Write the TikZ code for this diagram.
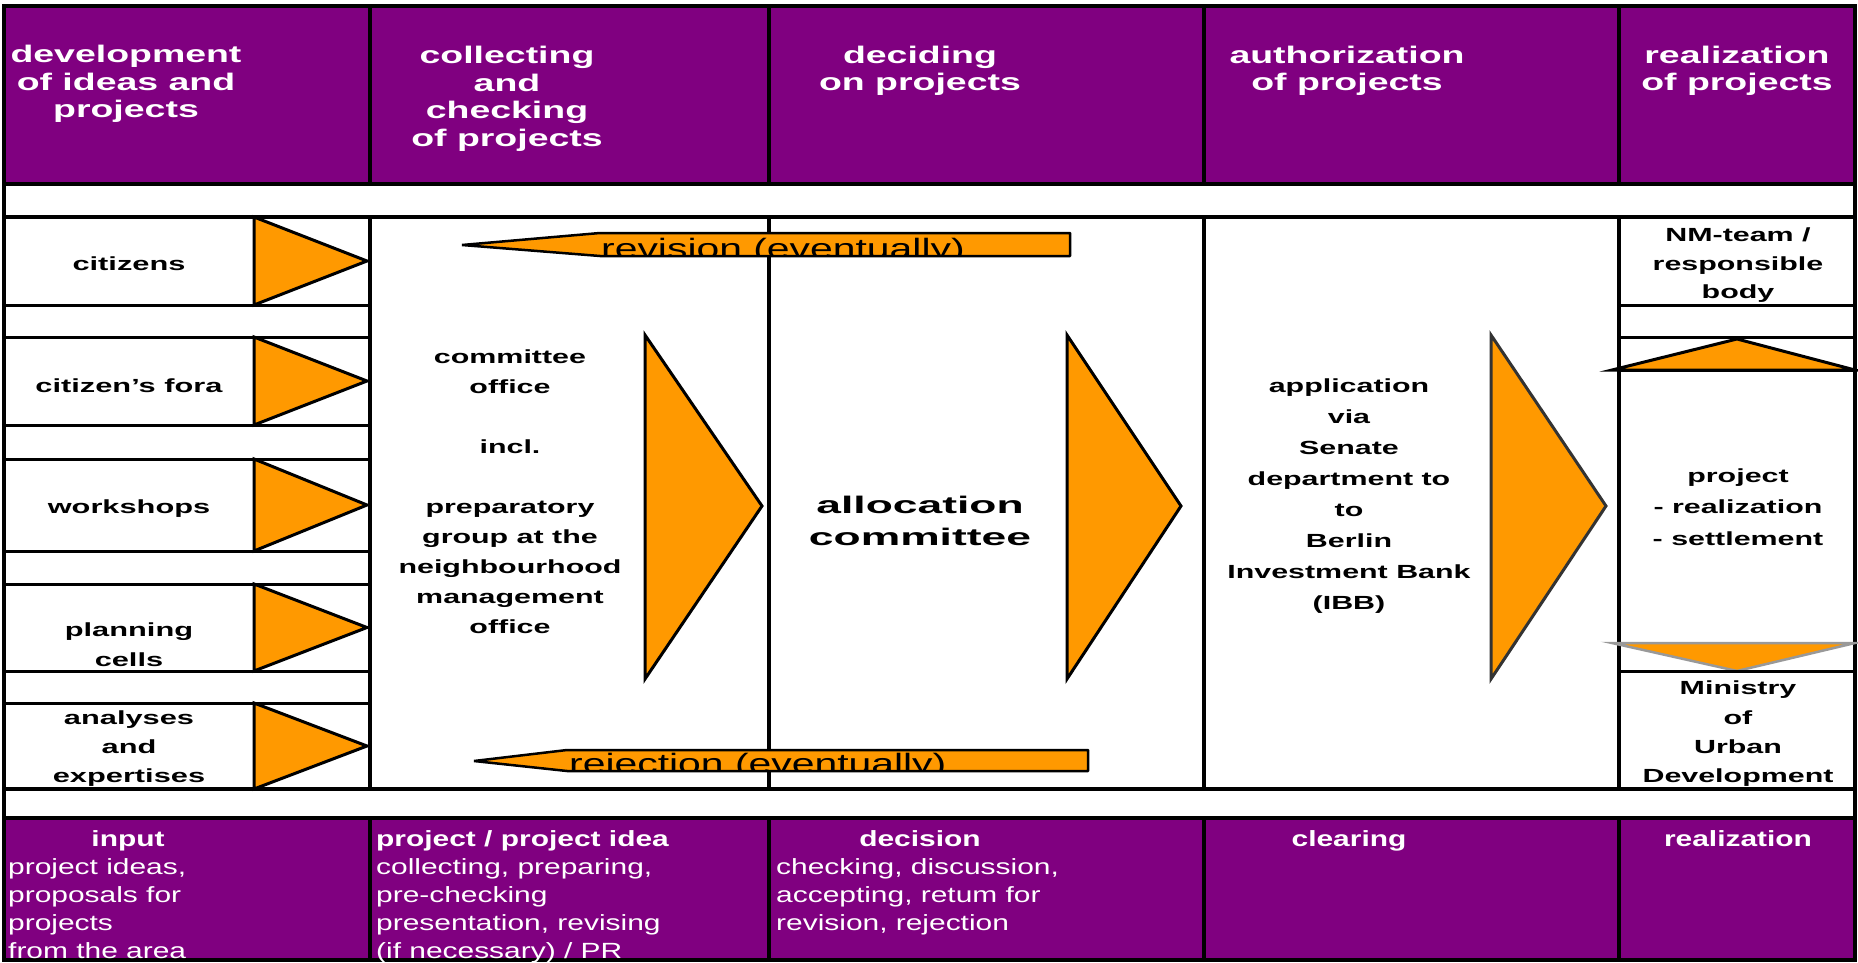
\documentclass[tikz,border=0pt]{standalone}
\usepackage{fontspec}
\setmainfont{Liberation Sans}
\usepackage{graphicx}
\definecolor{nmpurple}{HTML}{800080}
\definecolor{nmorange}{HTML}{FF9900}
\newcommand{\tx}[3]{\scalebox{#1}[1]{\begin{tabular}{@{}#2@{}}#3\end{tabular}}}
\begin{document}
\begin{tikzpicture}[x=1pt,y=-1pt,
  hdr/.style={inner sep=0pt, text=white, font=\bfseries\fontsize{24}{27.5}\selectfont},
  body/.style={inner sep=0pt, text=black, font=\bfseries\fontsize{19}{#1}\selectfont},
  body/.default=30,
  ftitle/.style={inner sep=0pt, text=white, font=\bfseries\fontsize{22}{28}\selectfont},
  fline/.style={inner sep=0pt, text=white, font=\fontsize{22}{28}\selectfont},
  gridline/.style={line width=3.5pt, black},
  boxline/.style={line width=3pt, black},
  tri/.style={fill=nmorange, draw=black, line width=3pt, line join=miter},
  flow/.style={fill=nmorange, draw=black, line width=2.5pt, line join=bevel},
  flowtext/.style={inner sep=0pt, text=black, font=\fontsize{28}{30}\selectfont, anchor=base west}
]
\useasboundingbox (0,0) rectangle (1858,963);
% purple bands
\fill[nmpurple] (4,6) rectangle (1855,184);
\fill[nmpurple] (4,818) rectangle (1855,960);
% grid
\draw[gridline] (4,6) rectangle (1855,960);
\foreach \y in {184,217,789,818} \draw[gridline] (4,\y) -- (1855,\y);
\foreach \x in {370,769,1204,1619} {
  \draw[gridline] (\x,6) -- (\x,184);
  \draw[gridline] (\x,217) -- (\x,789);
  \draw[gridline] (\x,818) -- (\x,960);
}
\foreach \y in {305,337,425,459,551,584,671,703} \draw[boxline] (4,\y) -- (370,\y);
\foreach \y in {305,337,370,671} \draw[boxline] (1619,\y) -- (1855,\y);
% small input triangles
\foreach \t/\b in {217/305, 337/425, 459/551, 584/671, 703/789} {
  \filldraw[tri] (254,\t) -- (367,{(\t+\b)/2}) -- (254,\b) -- cycle;
}
% big triangles
\filldraw[tri] (645,335) -- (762,506) -- (645,679) -- cycle;
\filldraw[tri] (1067,335) -- (1181,506) -- (1067,679) -- cycle;
\filldraw[tri, draw=black!80] (1491,335) -- (1606,506) -- (1491,679) -- cycle;
% realization up / down triangles
\filldraw[tri] (1612,370) -- (1737,339) -- (1855,370) -- cycle;
\filldraw[fill=nmorange, draw=black!40, line width=2.5pt, line join=miter] (1612,643) -- (1855,643) -- (1737,671) -- cycle;
\draw[boxline] (1619,671) -- (1855,671);
% revision arrow
\fill[nmorange] (462,245) -- (600,233) -- (1070,233) -- (1070,256) -- (600,256) -- cycle;
\begin{scope}
  \clip (462,245) -- (600,233) -- (1070,233) -- (1070,256) -- (600,256) -- cycle;
  \node[flowtext] (revtext) at (601,258) {\scalebox{1.46}[1]{revision (eventually)}};
\end{scope}
\draw[flow, fill=none] (462,245) -- (600,233) -- (1070,233) -- (1070,256) -- (600,256) -- cycle;
% rejection arrow
\fill[nmorange] (474,761) -- (567,750) -- (1088,750) -- (1088,771) -- (567,771) -- cycle;
\begin{scope}
  \clip (474,761) -- (567,750) -- (1088,750) -- (1088,771) -- (567,771) -- cycle;
  \node[flowtext] (rejtext) at (569,773) {\scalebox{1.46}[1]{rejection (eventually)}};
\end{scope}
\draw[flow, fill=none] (474,761) -- (567,750) -- (1088,750) -- (1088,771) -- (567,771) -- cycle;
% header texts
\node[hdr] (h1) at (126,85) {\tx{1.56}{c}{development\\of ideas and\\projects}};
\node[hdr] (h2) at (507,99.5) {\tx{1.56}{c}{collecting\\and\\checking\\of projects}};
\node[hdr] (h3) at (920,71.5) {\tx{1.56}{c}{deciding\\on projects}};
\node[hdr] (h4) at (1347,71.5) {\tx{1.56}{c}{authorization\\of projects}};
\node[hdr] (h5) at (1737,71.5) {\tx{1.56}{c}{realization\\of projects}};
% input column
\node[body] (citizens) at (129,264) {\tx{1.62}{c}{citizens}};
\node[body] (fora) at (129,386) {\tx{1.62}{c}{citizen's fora}};
\node[body] (workshops) at (129,507) {\tx{1.62}{c}{workshops}};
\node[body] (cells) at (129,645) {\tx{1.62}{c}{planning\\cells}};
\node[body=29] (analyses) at (129,748) {\tx{1.62}{c}{analyses\\and\\expertises}};
% collecting column
\node[body] (office) at (510,492) {\tx{1.6}{c}{committee\\office\\ \\incl.\\ \\preparatory\\group at the\\neighbourhood\\management\\office}};
% allocation
\node[inner sep=0pt, font=\bfseries\fontsize{24}{32}\selectfont] (alloc) at (920,523) {\tx{1.85}{c}{allocation\\committee}};
% authorization column
\node[body=31] (appl) at (1349,494.5) {\tx{1.6}{c}{application\\via\\Senate\\department to\\to\\Berlin\\Investment Bank\\(IBB)}};
% realization column
\node[body=28.5] (nmteam) at (1738,264.5) {\tx{1.6}{c}{NM-team /\\responsible\\body}};
\node[body=31.5] (realiz) at (1738,507.5) {\tx{1.6}{c}{project\\- realization\\- settlement}};
\node[body=29.3] (ministry) at (1738,733) {\tx{1.6}{c}{Ministry\\of\\Urban\\Development}};
% footer texts
\node[ftitle] (b1t) at (128,841) {\tx{1.36}{c}{input}};
\node[fline, anchor=west] (b1) at (8,911) {\tx{1.36}{l}{project ideas,\\proposals for\\projects\\from the area}};
\node[ftitle, anchor=west] (b2t) at (376,841) {\tx{1.36}{l}{project / project idea}};
\node[fline, anchor=west] (b2) at (376,911) {\tx{1.36}{l}{collecting, preparing,\\pre-checking\\presentation, revising\\(if necessary) / PR}};
\node[ftitle] (b3t) at (920,841) {\tx{1.36}{c}{decision}};
\node[fline, anchor=west] (b3) at (776,897) {\tx{1.36}{l}{checking, discussion,\\accepting, retum for\\revision, rejection}};
\node[ftitle] (b4t) at (1349,841) {\tx{1.36}{c}{clearing}};
\node[ftitle] (b5t) at (1738,841) {\tx{1.36}{c}{realization}};
\end{tikzpicture}
\end{document}
